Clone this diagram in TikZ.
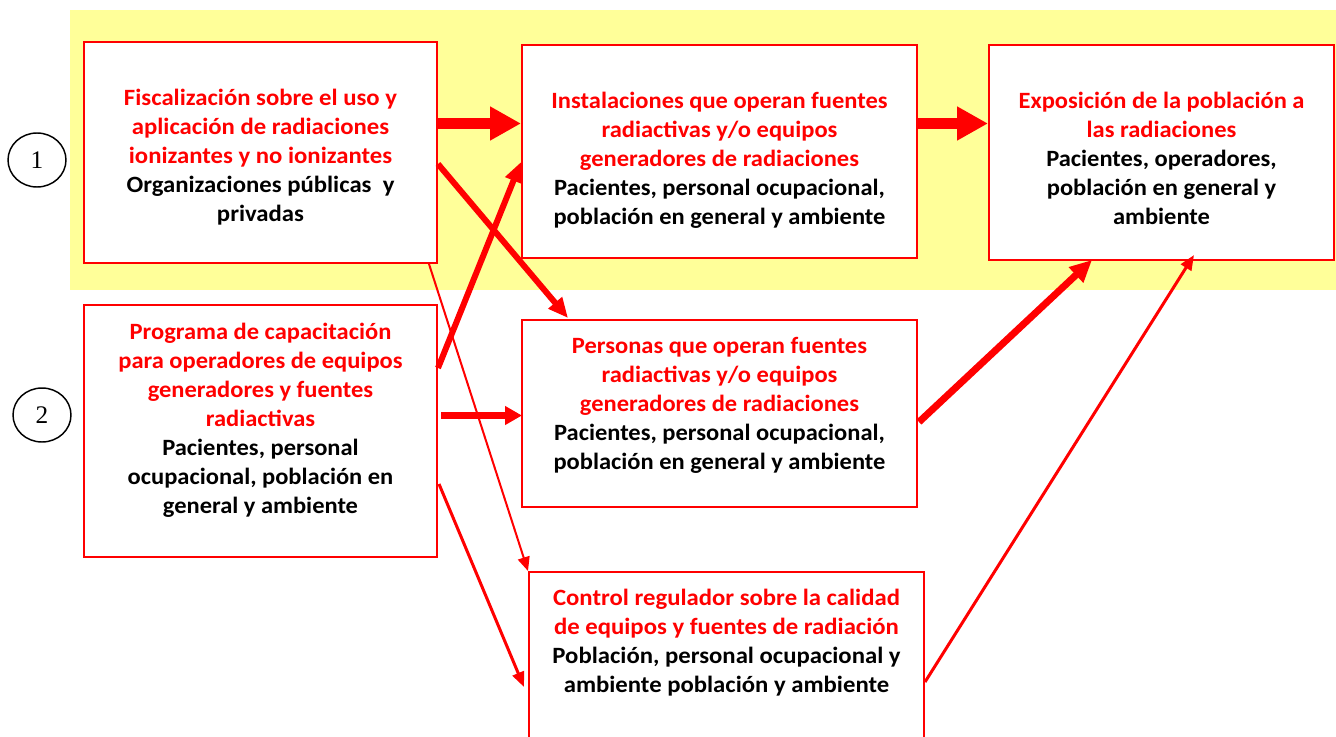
\documentclass[tikz,border=0pt]{standalone}
\usepackage{fontspec}
\usetikzlibrary{arrows.meta,calc,shapes.geometric}
\newfontfamily\fontA[FakeStretch=1.06]{Carlito}
\newfontfamily\fontAD[FakeStretch=1.05]{Carlito}
\newfontfamily\fontB[FakeStretch=1.05]{Carlito}
\newfontfamily\fontN{Liberation Serif}
\definecolor{bandyellow}{RGB}{255,255,153}
\newcommand\blk[1]{\textcolor{black}{#1}}
\newcommand\fst{\rule{0pt}{15pt}}
\tikzset{
  box/.style={draw=red, line width=1.5pt, fill=white, inner sep=0pt},
  txtA/.style={anchor=north, inner sep=0pt, align=center, text=red,
    font=\fontA\bfseries\fontsize{17.5pt}{21.75pt}\selectfont},
  txtD/.style={anchor=north, inner sep=0pt, align=center, text=red,
    font=\fontAD\bfseries\fontsize{17.5pt}{21.75pt}\selectfont},
  txtB/.style={anchor=north, inner sep=0pt, align=center, text=red,
    font=\fontB\bfseries\fontsize{17.5pt}{21.75pt}\selectfont},
  numcirc/.style={draw=black, line width=1.1pt, ellipse, minimum width=43.5pt, minimum height=40.5pt, inner sep=0pt,
    font=\fontN\fontsize{19pt}{22pt}\selectfont},
  bigarrow/.style={draw=red, line width=8.25pt, -{Triangle[length=23.25pt,width=24pt]}},
  medarrow/.style={draw=red, line width=4.5pt, -{Triangle[length=15pt,width=12.75pt]}},
  horarrow/.style={draw=red, line width=5.25pt, -{Triangle[length=12.75pt,width=13.5pt]}},
  heavyarrow/.style={draw=red, line width=5.25pt, -{Triangle[length=16.5pt,width=15pt]}},
  thinarrow/.style={draw=red, line width=1.5pt, -{Triangle[length=10.5pt,width=9pt]}},
  slimarrow/.style={draw=red, line width=2.25pt, -{Triangle[length=11.25pt,width=9pt]}}
}
\begin{document}
\begin{tikzpicture}[x=0.75pt,y=-0.75pt]
\useasboundingbox (0,0) rectangle (1336,736);
\clip (0,0) rectangle (1336,736);
\fill[bandyellow] (70,10) rectangle (1336,290);
% boxes
\node[box, minimum width=264.75pt, minimum height=165.75pt] (A) at (260.5,152.5) {};
\node[box, minimum width=296.25pt, minimum height=159.75pt] (B) at (719.5,151.5) {};
\node[box, minimum width=258.75pt, minimum height=161.25pt] (C) at (1161.5,152.5) {};
\node[box, minimum width=264.75pt, minimum height=189pt] (D) at (260.5,431) {};
\node[box, minimum width=296.25pt, minimum height=140.25pt] (E) at (719.5,413.5) {};
\node[box, minimum width=296.25pt, minimum height=133.5pt] (F) at (726.5,661) {};
% texts
\node[txtA] (tA) at (260.5,85) {\fst Fiscalización sobre el uso y\\aplicación de radiaciones\\ionizantes y no ionizantes\\\blk{Organizaciones públicas~ y}\\\blk{privadas}};
\node[txtB] (tB) at (719.5,88) {\fst Instalaciones que operan fuentes\\radiactivas y/o equipos\\generadores de radiaciones\\\blk{Pacientes, personal ocupacional,}\\\blk{población en general y ambiente}};
\node[txtB] (tC) at (1161.5,88) {\fst Exposición de la población a\\las radiaciones\\\blk{Pacientes, operadores,}\\\blk{población en general y}\\\blk{ambiente}};
\node[txtD] (tD) at (260.5,319) {\fst Programa de capacitación\\para operadores de equipos\\generadores y fuentes\\radiactivas\\\blk{Pacientes, personal}\\\blk{ocupacional, población en}\\\blk{general y ambiente}};
\node[txtB] (tE) at (719.5,333) {\fst Personas que operan fuentes\\radiactivas y/o equipos\\generadores de radiaciones\\\blk{Pacientes, personal ocupacional,}\\\blk{población en general y ambiente}};
\node[txtA] (tF) at (726.5,585) {\fst Control regulador sobre la calidad\\de equipos y fuentes de radiación\\\blk{Población, personal ocupacional y}\\\blk{ambiente población y ambiente}};
% circles
\node[numcirc] (n1) at (37,160) {1};
\node[numcirc] (n2) at (42,415) {2};
% arrows
\draw[bigarrow] ($(A.north east)+(0,82.5)$) -- ($(B.north west)+(0,79.5)$);
\draw[bigarrow] ($(B.north east)+(0,79.5)$) -- ($(C.north west)+(0,79.5)$);
\draw[medarrow] ($(A.north east)+(0,123)$) -- ($(E.north west)+(47,-1)$);
\draw[thinarrow] ($(A.south east)+(-9,0)$) -- (F.north west);
\draw[medarrow] ($(D.north east)+(0,64)$) -- ($(B.north west)+(0,118)$);
\draw[horarrow] ($(D.north east)+(3,111.5)$) -- ($(E.north west)+(1,96.5)$);
\draw[slimarrow] ($(D.north east)+(1,180)$) -- ($(F.north west)+(-4,116)$);
\draw[heavyarrow] ($(E.north east)+(1,103)$) -- ($(C.south west)+(104,-1)$);
\draw[slimarrow] ($(F.north east)+(0,111)$) -- ($(C.south west)+(206,-6)$);
\end{tikzpicture}
\end{document}
